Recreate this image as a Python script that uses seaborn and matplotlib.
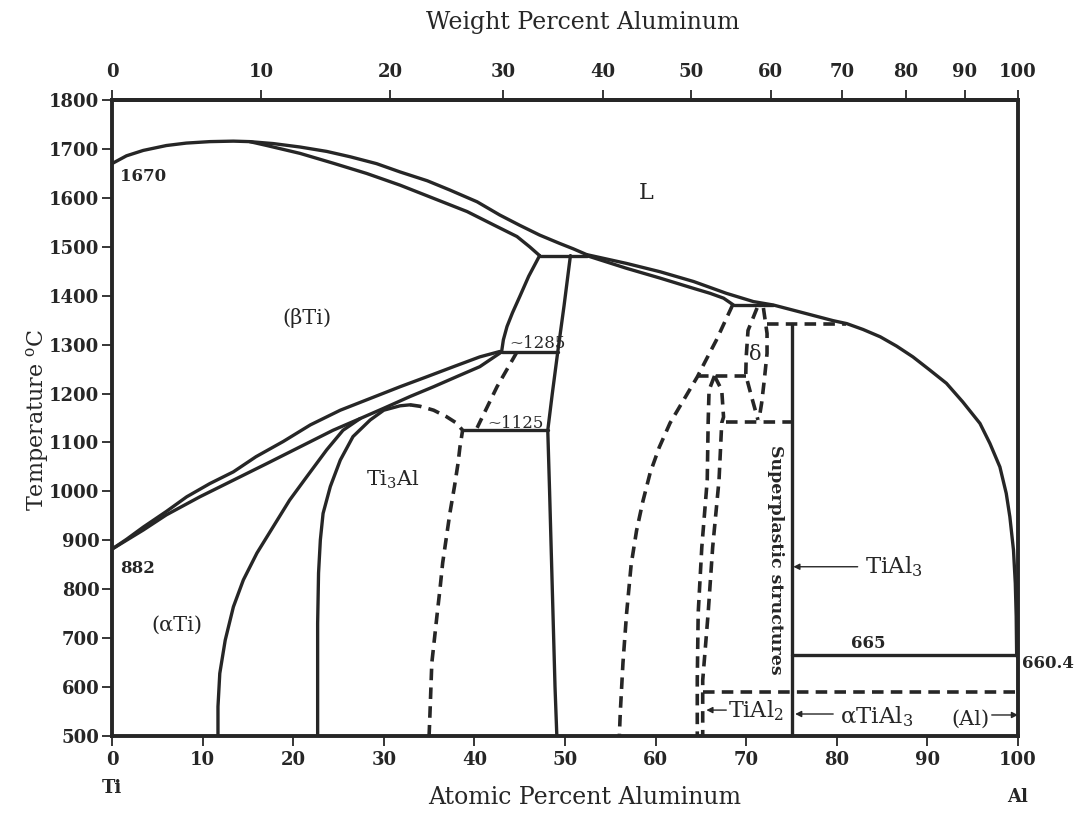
import numpy as np
import pandas as pd
import seaborn as sns
import matplotlib
matplotlib.use("Agg")
import matplotlib.pyplot as plt

# Ti-Al phase diagram, boundaries (atomic % Al, deg C)

# solid lines
liq_left_at = [0, 1.6, 3.45, 6.0, 8.2, 10.8, 13.4, 15.2, 17.8, 20.75, 23.7, 26.3, 29.2, 31.8,
               34.8, 37.3, 40.3, 42.8, 45.0, 47.2, 49.4, 50.9, 52.4]
liq_left_t = [1670, 1686, 1697, 1707, 1712, 1715, 1716, 1715, 1711, 1704, 1695, 1684, 1670, 1653,
              1635, 1616, 1592, 1565, 1544, 1524, 1507, 1496, 1484]
beta_sol_at = [15.2, 17.1, 20.75, 24.4, 28.1, 31.8, 35.5, 39.2, 42.1, 44.7, 46.1, 47.2]
beta_sol_t = [1715, 1707, 1691, 1671, 1650, 1626, 1599, 1572, 1545, 1521, 1500, 1482]
liq_right_at = [52.4, 56.8, 60.5, 64.2, 67.8, 70.8, 73.0, 75.9, 79.6, 81.1, 82.9, 84.8, 86.6,
                88.4, 90.2, 92.1, 93.9, 95.8, 96.9, 98.0, 98.7, 99.1, 99.5, 99.7, 99.8, 99.85, 100]
liq_right_t = [1484, 1466, 1449, 1429, 1405, 1388, 1381, 1367, 1349, 1343, 1331, 1316, 1297,
               1275, 1249, 1221, 1183, 1139, 1098, 1050, 996, 948, 880, 812, 744, 665, 660.4]
alpha_sol_at = [52.4, 56.8, 60.5, 64.2, 66.0, 67.5, 68.6]
alpha_sol_t = [1482, 1456, 1436, 1415, 1405, 1395, 1381]
alpha_right_at = [47.2, 46.0, 45.0, 44.2, 43.6, 43.2, 43.0]
alpha_right_t = [1482, 1440, 1398, 1365, 1337, 1310, 1285]
tial_left_at = [50.6, 49.9, 49.2, 48.6, 48.1, 48.3, 48.6, 48.9, 49.1]
tial_left_t = [1482, 1380, 1285, 1200, 1125, 1000, 800, 600, 500]
beta_transus_at = [0, 1.6, 3.45, 6.0, 8.25, 10.8, 13.4, 15.9, 18.9, 21.9, 25.2, 28.5, 31.8,
                   34.7, 37.7, 40.6, 42.8]
beta_transus_t = [882, 902, 927, 959, 989, 1016, 1040, 1071, 1102, 1136, 1166, 1190, 1214,
                  1234, 1255, 1275, 1286]
alpha_transus_at = [0, 3.45, 6.0, 9.7, 13.4, 17.1, 20.75, 24.4, 27.4, 30.0, 32.9, 35.5, 38.1,
                    40.6, 43.0]
alpha_transus_t = [882, 921, 952, 989, 1023, 1057, 1091, 1125, 1149, 1170, 1194, 1214, 1235,
                   1255, 1285]
alpha_solvus_at = [11.7, 11.7, 11.9, 12.5, 13.4, 14.5, 16.0, 17.8, 19.6, 21.5, 23.7, 25.5, 27.4]
alpha_solvus_t = [500, 560, 628, 696, 764, 819, 874, 928, 982, 1030, 1085, 1125, 1149]
ti3al_left_at = [22.7, 22.7, 22.7, 22.8, 23.0, 23.3, 24.1, 25.2, 26.6, 28.5, 30.0, 31.8, 32.9]
ti3al_left_t = [500, 628, 730, 833, 901, 955, 1010, 1064, 1112, 1146, 1166, 1175, 1177]
iso_1482_at = [47.2, 52.4]
iso_1482_t = [1482, 1482]
iso_1285_at = [43.0, 49.2]
iso_1285_t = [1285, 1285]
iso_1125_at = [38.7, 48.1]
iso_1125_t = [1125, 1125]
iso_1380_at = [68.6, 73.0]
iso_1380_t = [1381, 1381]
tial3_at = [75, 75]
tial3_t = [1342, 500]
iso_665_at = [75, 99.85]
iso_665_t = [665, 665]

# dashed lines
ti3al_right_at = [32.9, 34.0, 35.5, 36.9, 38.0, 38.7, 38.4, 38.2, 37.8, 37.3, 36.9, 36.5, 36.2,
                  35.9, 35.6, 35.3, 35.1, 35.0]
ti3al_right_t = [1177, 1174, 1166, 1153, 1140, 1125, 1090, 1058, 1010, 956, 905, 854, 800,
                 751, 700, 649, 547, 500]
alpha_tial_at = [44.7, 42.5, 40.3]
alpha_tial_t = [1285, 1214, 1130]
tial_right_at = [68.5, 67.6, 66.7, 65.6, 64.6, 63.1, 61.6, 60.4, 59.4, 58.6, 57.9, 57.3, 56.8,
                 56.4, 56.1, 56.0]
tial_right_t = [1381, 1345, 1309, 1270, 1234, 1187, 1140, 1090, 1038, 980, 920, 850, 751,
                650, 547, 500]
delta_left_at = [71.2, 70.2, 70.0, 69.95, 70.6, 71.3]
delta_left_t = [1375, 1329, 1275, 1238, 1193, 1146]
delta_right_at = [71.9, 72.3, 72.3, 72.0, 71.7, 71.4]
delta_right_t = [1375, 1323, 1282, 1228, 1180, 1146]
iso_1236_at = [64.6, 70.0]
iso_1236_t = [1236, 1236]
tial2_left_at = [66.5, 65.9, 65.8, 65.7, 65.1, 64.7, 64.6, 64.6]
tial2_left_t = [1236, 1207, 1140, 1023, 886, 751, 614, 500]
tial2_right_at = [66.5, 67.3, 67.5, 67.3, 67.0, 66.3, 65.8, 65.2, 65.2]
tial2_right_t = [1236, 1207, 1152, 1140, 1023, 886, 751, 614, 500]
iso_1142_at = [67.8, 75]
iso_1142_t = [1142, 1142]
iso_1342_at = [72.3, 81.0]
iso_1342_t = [1342, 1342]
iso_590_at = [65.2, 100]
iso_590_t = [590, 590]

curves = {
    'liq_left': (liq_left_at, liq_left_t, 'solid'),
    'beta_sol': (beta_sol_at, beta_sol_t, 'solid'),
    'liq_right': (liq_right_at, liq_right_t, 'solid'),
    'alpha_sol': (alpha_sol_at, alpha_sol_t, 'solid'),
    'alpha_right': (alpha_right_at, alpha_right_t, 'solid'),
    'tial_left': (tial_left_at, tial_left_t, 'solid'),
    'beta_transus': (beta_transus_at, beta_transus_t, 'solid'),
    'alpha_transus': (alpha_transus_at, alpha_transus_t, 'solid'),
    'alpha_solvus': (alpha_solvus_at, alpha_solvus_t, 'solid'),
    'ti3al_left': (ti3al_left_at, ti3al_left_t, 'solid'),
    'iso_1482': (iso_1482_at, iso_1482_t, 'solid'),
    'iso_1285': (iso_1285_at, iso_1285_t, 'solid'),
    'iso_1125': (iso_1125_at, iso_1125_t, 'solid'),
    'iso_1380': (iso_1380_at, iso_1380_t, 'solid'),
    'tial3': (tial3_at, tial3_t, 'solid'),
    'iso_665': (iso_665_at, iso_665_t, 'solid'),
    'ti3al_right': (ti3al_right_at, ti3al_right_t, 'dashed'),
    'alpha_tial': (alpha_tial_at, alpha_tial_t, 'dashed'),
    'tial_right': (tial_right_at, tial_right_t, 'dashed'),
    'delta_left': (delta_left_at, delta_left_t, 'dashed'),
    'delta_right': (delta_right_at, delta_right_t, 'dashed'),
    'iso_1236': (iso_1236_at, iso_1236_t, 'dashed'),
    'tial2_left': (tial2_left_at, tial2_left_t, 'dashed'),
    'tial2_right': (tial2_right_at, tial2_right_t, 'dashed'),
    'iso_1142': (iso_1142_at, iso_1142_t, 'dashed'),
    'iso_1342': (iso_1342_at, iso_1342_t, 'dashed'),
    'iso_590': (iso_590_at, iso_590_t, 'dashed'),
}

temp_ticks = list(range(500, 1900, 100))
at_ticks = list(range(0, 110, 10))
wt_ticks = list(range(0, 110, 10))

M_AL, M_TI = 26.98, 47.867


def at_to_wt(a):
    a = np.asarray(a, dtype=float)
    with np.errstate(divide='ignore', invalid='ignore'):
        return 100 * a * M_AL / (a * M_AL + (100 - a) * M_TI)


def wt_to_at(w):
    w = np.asarray(w, dtype=float)
    with np.errstate(divide='ignore', invalid='ignore'):
        return 100 * (w / M_AL) / (w / M_AL + (100 - w) / M_TI)


rows = []
for name, (xs, ts, kind) in curves.items():
    for x, t in zip(xs, ts):
        rows.append({'at': x, 'T': t, 'curve': name, 'kind': kind})
df = pd.DataFrame(rows)

sns.set_style("ticks")
plt.rcParams['font.family'] = ['DejaVu Serif']
plt.rcParams['mathtext.fontset'] = 'dejavuserif'
ink = '#262626'

fig = plt.figure(figsize=(10.86, 8.14), dpi=100)
ax = fig.add_axes([0.1031, 0.0958, 0.8343, 0.7813])
sns.lineplot(data=df, x='at', y='T', units='curve', estimator=None, sort=False,
             style='kind', dashes={'solid': '', 'dashed': (3.2, 2.0)},
             size='kind', sizes={'solid': 2.4, 'dashed': 2.6},
             color=ink, legend=False, ax=ax)

ax.set_xlim(0, 100)
ax.set_ylim(500, 1800)
ax.set_xticks(at_ticks)
ax.set_yticks(temp_ticks)
for s in ax.spines.values():
    s.set_linewidth(2.8)
    s.set_color(ink)
ax.tick_params(axis='y', direction='out', length=7, width=1.3, pad=2, labelsize=13, colors=ink)
ax.tick_params(axis='x', direction='out', length=7, width=1.3, pad=4, labelsize=13, colors=ink)
for lbl in ax.get_xticklabels() + ax.get_yticklabels():
    lbl.set_fontweight('bold')

sec = ax.secondary_xaxis('top', functions=(at_to_wt, wt_to_at))
sec.set_xticks(wt_ticks)
sec.tick_params(direction='out', length=7, width=1.3, pad=7, labelsize=13, colors=ink)
for lbl in sec.get_xticklabels():
    lbl.set_fontweight('bold')
sec.spines['top'].set_linewidth(2.8)

ax.set_xlabel('')
ax.set_ylabel('Temperature $^{\\mathrm{o}}$C', fontsize=16, color=ink)
ax.yaxis.set_label_coords(-0.067, 0.497)
fig.text(583 / 1086, 1 - 22 / 814, 'Weight Percent Aluminum', ha='center', va='center',
         fontsize=17, color=ink)
fig.text(585 / 1086, 1 - 797 / 814, 'Atomic Percent Aluminum', ha='center', va='center',
         fontsize=17, color=ink)

ax.text(0, 394, 'Ti', ha='center', va='center', fontsize=13, fontweight='bold', color=ink)
ax.text(100, 376, 'Al', ha='center', va='center', fontsize=13, fontweight='bold', color=ink)

# phase labels
ax.text(59.0, 1610, 'L', ha='center', va='center', fontsize=16, color=ink)
ax.text(21.5, 1354, '(βTi)', ha='center', va='center', fontsize=15, color=ink)
ax.text(7.2, 727, '(αTi)', ha='center', va='center', fontsize=15, color=ink)
ax.text(31.0, 1023, 'Ti$_3$Al', ha='center', va='center', fontsize=15, color=ink)
ax.text(71.0, 1279, 'δ', ha='center', va='center', fontsize=15, color=ink)
ax.text(73.2, 860, 'Superplastic structures', rotation=270, ha='center', va='center',
        fontsize=12.5, fontweight='bold', color=ink)

# temperatures
ax.text(0.9, 1643, '1670', ha='left', va='center', fontsize=12, fontweight='bold', color=ink)
ax.text(0.9, 843, '882', ha='left', va='center', fontsize=12, fontweight='bold', color=ink)
ax.text(43.8, 1303, '~1285', ha='left', va='center', fontsize=12, color=ink)
ax.text(41.4, 1139, '~1125', ha='left', va='center', fontsize=12, color=ink)
ax.text(83.5, 690, '665', ha='center', va='center', fontsize=12, fontweight='bold', color=ink)
ax.text(100.4, 648, '660.4', ha='left', va='center', fontsize=12, fontweight='bold', color=ink)

# arrowed labels
arrow = dict(arrowstyle='-|>', lw=1, color=ink, mutation_scale=9, shrinkA=0, shrinkB=0)
ax.annotate('', xy=(75.2, 846), xytext=(82.3, 846), arrowprops=arrow)
ax.text(83.1, 833, 'TiAl$_3$', ha='left', va='baseline', fontsize=16.5, color=ink)
ax.annotate('', xy=(65.6, 553), xytext=(67.8, 553), arrowprops=arrow)
ax.text(68.0, 539, 'TiAl$_2$', ha='left', va='baseline', fontsize=16, color=ink)
ax.annotate('', xy=(75.4, 545), xytext=(79.6, 545), arrowprops=arrow)
ax.text(80.4, 526, 'αTiAl$_3$', ha='left', va='baseline', fontsize=16.5, color=ink)
ax.text(92.7, 522, '(Al)', ha='left', va='baseline', fontsize=15, color=ink)
ax.annotate('', xy=(100, 543), xytext=(97.1, 543), arrowprops=arrow)

fig.savefig('out.png', dpi=100, facecolor='white')
